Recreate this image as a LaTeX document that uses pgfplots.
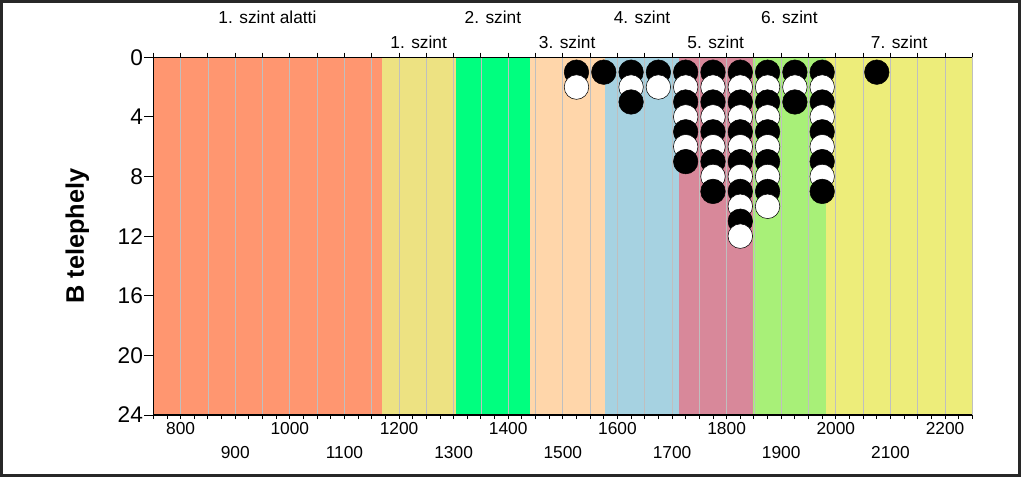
\documentclass[border=0pt]{standalone}
\usepackage{pgfplots}
\pgfplotsset{compat=1.18}
\usepackage{fontspec}
\setmainfont{Liberation Sans}
\definecolor{cA}{RGB}{255,150,112}
\definecolor{cB}{RGB}{237,226,130}
\definecolor{cC}{RGB}{0,255,127}
\definecolor{cD}{RGB}{255,214,170}
\definecolor{cE}{RGB}{166,210,225}
\definecolor{cF}{RGB}{216,136,154}
\definecolor{cG}{RGB}{168,240,120}
\definecolor{cH}{RGB}{237,237,122}
\definecolor{frame}{RGB}{40,40,40}
\begin{document}
\begin{tikzpicture}
\useasboundingbox (0,0) rectangle (768pt,358.5pt);
\draw[line width=1.9pt, color=frame] (1.1pt,1.9pt) rectangle (764.6pt,357.4pt);
\pgfplotsset{common/.style={at={(115pt,47.25pt)}, anchor=south west, scale only axis,
  width=614.25pt, height=268.3pt, xmin=750, xmax=2250, ymin=0, ymax=24, y dir=reverse,
  /pgf/number format/assume math mode=true, /pgf/number format/1000 sep={},
  tick align=outside,
  axis line style={black, line width=0.8pt}, tick style={black, line width=0.7pt}}}
% background axis: bands, grid, top ticks, band names
\begin{axis}[common, axis on top, clip=false, axis x line*=top, hide y axis,
  xtick={750,800,...,2250}, xticklabels={}, xmajorgrids,
  grid style={color=black!25, line width=0.6pt}, major tick length=3.5pt]
\addplot[draw=none, fill=cA] coordinates {(750,24) (1168,24)} \closedcycle;
\addplot[draw=none, fill=cB] coordinates {(1168,24) (1304,24)} \closedcycle;
\addplot[draw=none, fill=cC] coordinates {(1304,24) (1440,24)} \closedcycle;
\addplot[draw=none, fill=cD] coordinates {(1440,24) (1577,24)} \closedcycle;
\addplot[draw=none, fill=cE] coordinates {(1577,24) (1712,24)} \closedcycle;
\addplot[draw=none, fill=cF] coordinates {(1712,24) (1848,24)} \closedcycle;
\addplot[draw=none, fill=cG] coordinates {(1848,24) (1982,24)} \closedcycle;
\addplot[draw=none, fill=cH] coordinates {(1982,24) (2250,24)} \closedcycle;
\begin{scope}[every node/.style={font=\fontsize{13}{15}\selectfont}]
\node at ([yshift=30pt]axis cs:959,0) {1. szint alatti};
\node at ([yshift=11.5pt]axis cs:1236,0) {1. szint};
\node at ([yshift=30pt]axis cs:1372,0) {2. szint};
\node at ([yshift=11.5pt]axis cs:1508,0) {3. szint};
\node at ([yshift=30pt]axis cs:1645,0) {4. szint};
\node at ([yshift=11.5pt]axis cs:1780,0) {5. szint};
\node at ([yshift=30pt]axis cs:1915,0) {6. szint};
\node at ([yshift=11.5pt]axis cs:2116,0) {7. szint};
\end{scope}
\end{axis}
% foreground axis: dots, bottom and left axes
\begin{axis}[common, axis x line*=bottom, axis y line*=left,
  ytick={0,4,...,24}, xtick={800,1000,...,2200},
  extra x ticks={900,1100,...,2100},
  extra x tick style={xticklabel style={yshift=-18pt}},
  minor xtick={750,775,...,2250},
  x tick style={/pgfplots/major tick length=3pt, /pgfplots/minor tick length=3pt},
  y tick style={/pgfplots/major tick length=6.75pt},
  xticklabel style={font=\fontsize{13}{15}\selectfont, yshift=2pt},
  yticklabel style={font=\fontsize{17}{20}\selectfont},
  ylabel={B telephely},
  ylabel style={font=\fontsize{19}{23}\selectfont\bfseries, at={(axis description cs:-0.0928,0.5)}, anchor=center}]
\addplot[scatter, only marks, point meta=explicit symbolic, mark size=9.2pt,
  scatter/classes={b={mark=*, draw=black, fill=black}, w={mark=*, draw=black, fill=white}}]
coordinates {
(1525,1)[b] (1525,2)[w]
(1575,1)[b]
(1625,1)[b] (1625,2)[w] (1625,3)[b]
(1675,1)[b] (1675,2)[w]
(1725,1)[b] (1725,2)[w] (1725,3)[b] (1725,4)[w] (1725,5)[b] (1725,6)[w] (1725,7)[b]
(1775,1)[b] (1775,2)[w] (1775,3)[b] (1775,4)[w] (1775,5)[b] (1775,6)[w] (1775,7)[b] (1775,8)[w] (1775,9)[b]
(1825,1)[b] (1825,2)[w] (1825,3)[b] (1825,4)[w] (1825,5)[b] (1825,6)[w] (1825,7)[b] (1825,8)[w] (1825,9)[b] (1825,10)[w] (1825,11)[b] (1825,12)[w]
(1875,1)[b] (1875,2)[w] (1875,3)[b] (1875,4)[w] (1875,5)[b] (1875,6)[w] (1875,7)[b] (1875,8)[w] (1875,9)[b] (1875,10)[w]
(1925,1)[b] (1925,2)[w] (1925,3)[b]
(1975,1)[b] (1975,2)[w] (1975,3)[b] (1975,4)[w] (1975,5)[b] (1975,6)[w] (1975,7)[b] (1975,8)[w] (1975,9)[b]
(2075,1)[b]
};
\end{axis}
\end{tikzpicture}
\end{document}
